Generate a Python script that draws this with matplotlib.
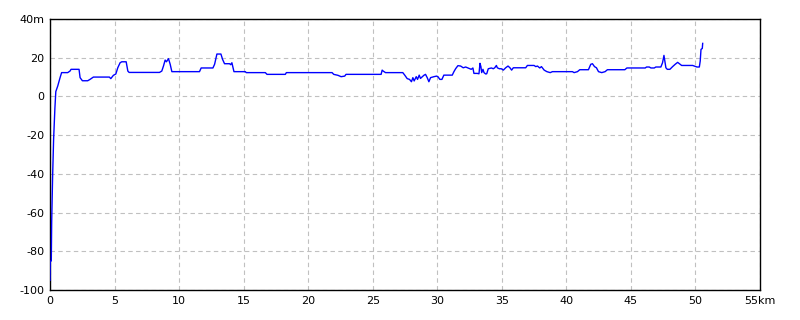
"""
Elevation profile along a route (distance in km, height in m)
"""

import matplotlib
matplotlib.use('Agg')

import matplotlib.pyplot as plt

# Distance along the route (km)
dist_km = [
    0.0, 0.02, 0.1, 0.13, 0.2, 0.28, 0.38, 0.45, 0.6, 0.78, 0.9, 1.37, 1.55, 1.63,
    2.25, 2.33, 2.51, 2.92, 3.1, 3.36, 4.6, 4.71, 4.91, 5.1, 5.25, 5.43, 5.56, 5.9,
    6.03, 6.13, 8.48, 8.66, 8.79, 8.92, 9.02, 9.18, 9.31, 9.44, 11.58, 11.71, 12.62,
    12.75, 12.93, 13.24, 13.37, 13.52, 13.91, 14.0, 14.09, 14.25, 15.13, 15.2, 16.68,
    16.81, 18.23, 18.31, 21.85, 21.98, 22.31, 22.55, 22.83, 22.93, 25.65, 25.73,
    25.81, 25.99, 27.33, 27.49, 27.67, 27.85, 28.0, 28.11, 28.21, 28.37, 28.47, 28.6,
    28.7, 28.96, 29.09, 29.22, 29.35, 29.48, 29.74, 29.95, 30.05, 30.2, 30.36, 30.51,
    31.16, 31.29, 31.42, 31.6, 31.81, 32.01, 32.2, 32.45, 32.63, 32.76, 32.84, 33.1,
    33.23, 33.31, 33.38, 33.44, 33.54, 33.62, 33.75, 33.83, 33.95, 34.19, 34.34,
    34.45, 34.58, 34.65, 34.81, 34.96, 35.12, 35.3, 35.48, 35.63, 35.76, 35.89,
    36.85, 36.98, 37.5, 37.63, 37.76, 37.94, 38.07, 38.28, 38.49, 38.75, 38.92,
    40.47, 40.6, 40.86, 41.04, 41.71, 41.89, 42.02, 42.18, 42.33, 42.49, 42.74, 43.0,
    43.18, 44.53, 44.69, 46.11, 46.21, 46.42, 46.55, 46.81, 46.93, 47.32, 47.45,
    47.56, 47.63, 47.71, 47.82, 48.02, 48.23, 48.43, 48.62, 48.75, 48.93, 49.78,
    49.91, 50.12, 50.3, 50.37, 50.43, 50.53, 50.56,
]

# Elevation (m)
elev_m = [
    -95, -85, -85, -65, -42, -22, -6, 2.5, 5.4, 9.7, 12.3, 12.3, 13.1, 14.0,
    14.0, 9.7, 8.1, 8.1, 8.8, 10.0, 10.0, 9.2, 10.9, 11.6, 14.8, 17.4, 17.9, 17.9,
    13.1, 12.4, 12.4, 13.1, 15.7, 18.8, 17.9, 19.5, 16.6, 12.8, 12.8, 14.7, 14.7,
    16.6, 21.9, 21.9, 19.1, 16.9, 16.9, 16.4, 17.4, 12.8, 12.8, 12.3, 12.3,
    11.4, 11.4, 12.3, 12.3, 11.4, 10.9, 10.2, 10.5, 11.4, 11.4, 13.6,
    13.1, 12.3, 12.3, 10.9, 9.2, 8.8, 7.6, 9.7, 8.0, 10.2, 8.8, 11.0,
    9.3, 10.9, 11.4, 9.7, 7.6, 9.7, 10.2, 10.5, 10.2, 8.8, 8.8, 11.0,
    11.0, 12.8, 14.3, 15.9, 15.7, 14.8, 15.2, 14.5, 14.0, 14.7, 11.9, 11.9,
    11.7, 17.1, 15.4, 12.3, 14.0, 12.3, 11.6, 11.7, 14.3, 14.7, 14.3,
    14.8, 16.0, 14.8, 14.3, 14.3, 13.6, 14.8, 15.7, 14.8, 13.6, 14.8,
    14.8, 16.0, 16.0, 15.4, 15.7, 14.7, 15.4, 13.6, 12.8, 12.3, 12.8,
    12.8, 12.3, 12.8, 13.8, 13.8, 16.6, 16.9, 15.4, 14.8, 12.8, 12.3, 12.8,
    13.8, 13.8, 14.7, 14.7, 15.2, 15.2, 14.7, 14.7, 15.2, 15.2, 17.4,
    21.2, 18.3, 14.8, 14.0, 14.0, 15.4, 16.6, 17.6, 16.9, 16.0, 16.0,
    15.7, 15.2, 15.2, 18.3, 24.3, 24.8, 27.4,
]

x_ticks = [0, 5, 10, 15, 20, 25, 30, 35, 40, 45, 50, 55]
x_labels = ['0', '5', '10', '15', '20', '25', '30', '35', '40', '45', '50', '55km']
y_ticks = [-100, -80, -60, -40, -20, 0, 20, 40]
y_labels = ['-100', '-80', '-60', '-40', '-20', '0', '20', '40m']

fig = plt.figure(figsize=(8, 3.2), dpi=100)
ax = fig.add_axes([0.0625, 0.09375, 0.8875, 0.846875])

ax.plot(dist_km, elev_m, color='#0000ff', linewidth=1.0, zorder=3)

ax.set_xlim(0, 55)
ax.set_ylim(-100, 40)
ax.set_xticks(x_ticks)
ax.set_xticklabels(x_labels)
ax.set_yticks(y_ticks)
ax.set_yticklabels(y_labels)
ax.tick_params(length=0, labelsize=8, pad=4)

ax.grid(True, color='#c0c0c0', linestyle=(0, (4, 3)), linewidth=0.8)
for s in ax.spines.values():
    s.set_color('black')
    s.set_linewidth(1.0)

plt.savefig('out.png', dpi=100)
plt.close()
